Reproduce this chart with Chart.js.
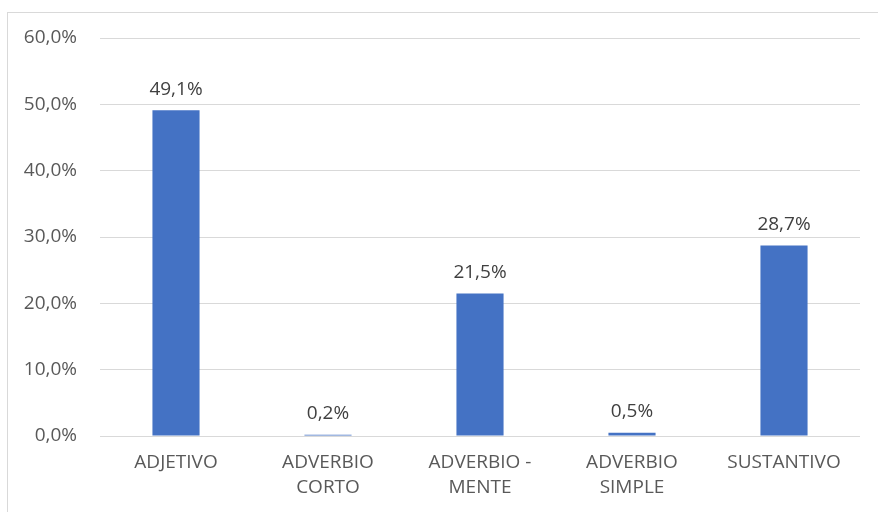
<!DOCTYPE html>
<html>
<head>
<meta charset="utf-8">
<script src="https://cdn.jsdelivr.net/npm/chart.js@4.4.1/dist/chart.umd.min.js"></script>
<style>
  html, body { margin: 0; padding: 0; background: #ffffff; overflow: hidden; }
  #frame {
    position: absolute; left: 7px; top: 12px;
    width: 900px; height: 520px;
    border: 1px solid #d9d9d9;
  }
  #wrap { position: absolute; left: 0; top: 0; width: 870px; height: 499px; }
</style>
</head>
<body>
<div id="frame">
  <div id="wrap"><canvas id="chart"></canvas></div>
</div>
<script>
// categories (multi-line labels) and their shares in percent
const categories = [
    ["ADJETIVO"],
    ["ADVERBIO", "CORTO"],
    ["ADVERBIO -", "MENTE"],
    ["ADVERBIO", "SIMPLE"],
    ["SUSTANTIVO"]
];
const shares = [49.1, 0.2, 21.5, 0.5, 28.7];
const yTicks = [0, 10, 20, 30, 40, 50, 60];

const fmt = v => v.toFixed(1).replace(".", ",") + "%";

// value labels above each bar
const barLabels = {
    id: "barLabels",
    afterDatasetsDraw(chart) {
        const ctx = chart.ctx;
        const meta = chart.getDatasetMeta(0);
        ctx.save();
        ctx.font = "19px 'Open Sans'";
        ctx.fillStyle = "#404040";
        ctx.textAlign = "center";
        ctx.textBaseline = "middle";
        meta.data.forEach((bar, i) => {
            ctx.fillText(fmt(shares[i]), bar.x, bar.y - 21);
        });
        ctx.restore();
    }
};

new Chart(document.getElementById("chart"), {
    type: "bar",
    data: {
        labels: categories,
        datasets: [{
            data: shares,
            backgroundColor: "#4472c4",
            barPercentage: 0.31,
            categoryPercentage: 1
        }]
    },
    options: {
        responsive: true,
        maintainAspectRatio: false,
        animation: false,
        layout: { padding: { top: 25, right: 18, bottom: 0, left: 0 } },
        plugins: {
            legend: { display: false },
            tooltip: { enabled: false }
        },
        scales: {
            x: {
                grid: { display: false, drawTicks: false },
                border: { display: false },
                ticks: {
                    color: "#595959",
                    font: { family: "'Open Sans'", size: 19, lineHeight: 1.32 },
                    padding: 14,
                    maxRotation: 0,
                    autoSkip: false
                },
                afterFit: s => { s.height = 76; }
            },
            y: {
                min: 0,
                max: 60,
                afterBuildTicks: s => { s.ticks = yTicks.map(v => ({ value: v })); },
                grid: { color: "#d9d9d9", drawTicks: false },
                border: { display: false },
                ticks: {
                    color: "#595959",
                    font: { family: "'Open Sans'", size: 19 },
                    padding: 23,
                    callback: v => fmt(v)
                },
                afterFit: s => {
                    s.width = 92;
                    s.paddingTop = 0;
                    s.paddingBottom = 0;
                }
            }
        }
    },
    plugins: [barLabels]
});
</script>
</body>
</html>
